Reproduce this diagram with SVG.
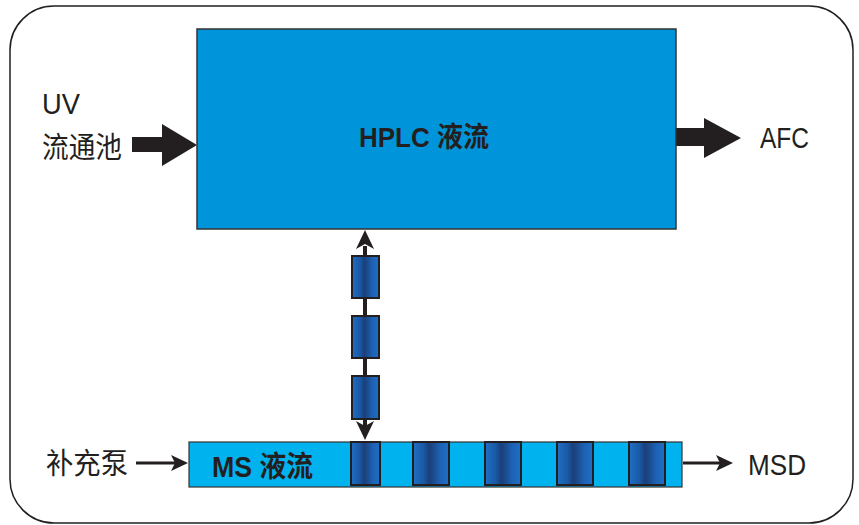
<svg xmlns="http://www.w3.org/2000/svg" width="859" height="525" viewBox="0 0 859 525">
<defs>
<linearGradient id="cart" x1="0" y1="0" x2="1" y2="0">
<stop offset="0" stop-color="#1f6fc4"/>
<stop offset="0.3" stop-color="#1a58a6"/>
<stop offset="0.45" stop-color="#1c3f78"/>
<stop offset="0.6" stop-color="#1b4f94"/>
<stop offset="0.75" stop-color="#1d62b4"/>
<stop offset="1" stop-color="#1f6fc4"/>
</linearGradient>
</defs>
<style>
.lbl{font-family:"Liberation Sans","Noto Sans CJK SC",sans-serif;fill:#231f20}
.bold{font-family:"Liberation Sans","Noto Sans CJK SC",sans-serif;font-weight:bold;fill:#231f20}
.cart{fill:url(#cart);stroke:#231f20;stroke-width:2}
.thin{stroke:#231f20;stroke-width:3;fill:none}
.head{fill:#231f20}
</style>
<rect x="10" y="6" width="843" height="517" rx="44" ry="44" fill="#fff" stroke="#231f20" stroke-width="1.5"/>

<g id="connectors">
<line x1="365" y1="246" x2="365" y2="426" stroke="#231f20" stroke-width="4"/>
<path class="head" d="M365,230 L374,249 L365,244 L356,249 Z"/>
<path class="head" d="M365,440 L374,421 L365,426 L356,421 Z"/>
<path class="head" d="M132,137 H162 V124 L197,145 L162,166 V152 H132 Z"/>
<path class="head" d="M676,128 H704 V118 L741,138 L704,158 V146 H676 Z"/>
<line x1="136" y1="463" x2="176" y2="463" class="thin"/>
<path class="head" d="M188,463 L171,455 L175,463 L171,471 Z"/>
<line x1="683" y1="463" x2="720" y2="463" class="thin"/>
<path class="head" d="M733,463 L716,455 L720,463 L716,471 Z"/>
</g>

<g id="hplc">
<rect x="197" y="29" width="479" height="200" fill="#0095da" stroke="#333" stroke-width="1.5"/>
<text class="bold" x="359" y="147" font-size="28" textLength="130" lengthAdjust="spacingAndGlyphs">HPLC 液流</text>
</g>

<g id="columns">
<rect class="cart" x="352" y="256" width="27" height="42"/>
<rect class="cart" x="352" y="316" width="27" height="42"/>
<rect class="cart" x="352" y="376" width="27" height="43"/>
</g>

<g id="ms">
<rect x="189" y="442" width="493" height="45" fill="#00b2ee" stroke="#333" stroke-width="1.2"/>
<text class="bold" x="212" y="477" font-size="29" textLength="101" lengthAdjust="spacingAndGlyphs">MS 液流</text>
<rect class="cart" x="351" y="442" width="29" height="43"/>
<rect class="cart" x="413" y="442" width="36" height="43"/>
<rect class="cart" x="485" y="442" width="36" height="43"/>
<rect class="cart" x="557" y="442" width="36" height="43"/>
<rect class="cart" x="629" y="442" width="36" height="43"/>
</g>

<g id="uv">
<text class="lbl" x="42" y="114" font-size="30" textLength="38" lengthAdjust="spacingAndGlyphs">UV</text>
<text class="lbl" x="42" y="158" font-size="29" textLength="80" lengthAdjust="spacingAndGlyphs">流通池</text>
</g>
<g id="afc">
<text class="lbl" x="760" y="148" font-size="30" textLength="49" lengthAdjust="spacingAndGlyphs">AFC</text>
</g>
<g id="pump">
<text class="lbl" x="46" y="474" font-size="29" textLength="82" lengthAdjust="spacingAndGlyphs">补充泵</text>
</g>
<g id="msd">
<text class="lbl" x="748" y="475" font-size="30" textLength="58" lengthAdjust="spacingAndGlyphs">MSD</text>
</g>
</svg>
